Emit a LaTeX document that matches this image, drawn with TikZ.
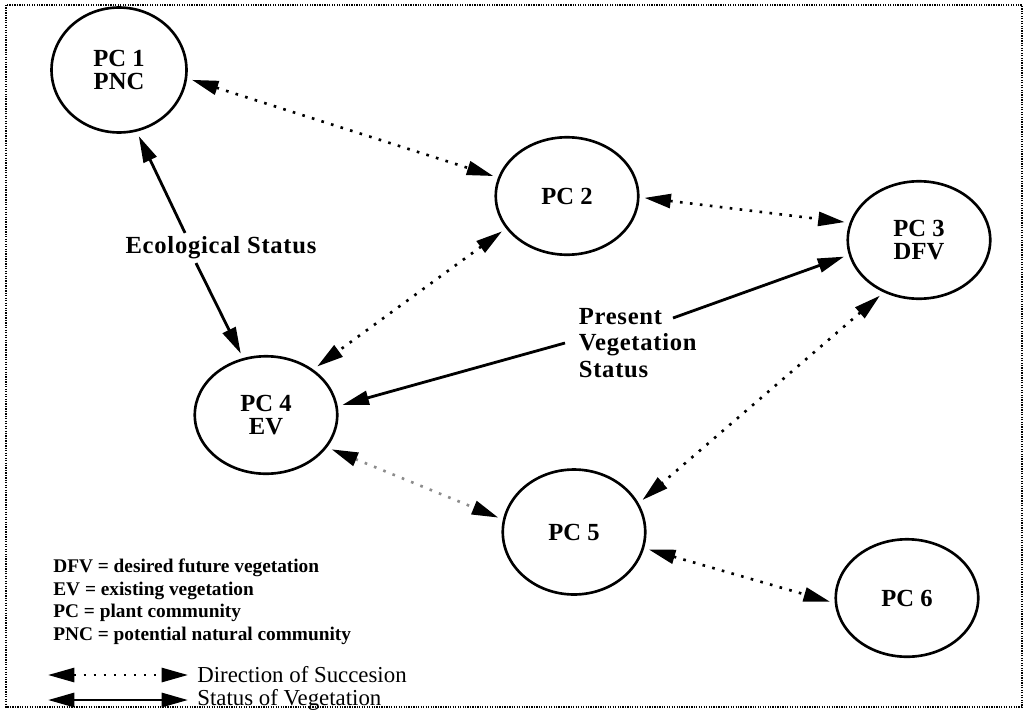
\documentclass[tikz,border=0pt]{standalone}
\usepackage{fontspec}
\setmainfont{Liberation Serif}
\usetikzlibrary{shapes,arrows.meta,positioning,calc}

\begin{document}
\begin{tikzpicture}[
    x=0.02cm, y=-0.02cm,
    community/.style={ellipse, draw, line width=1.5pt, minimum width=2.85cm, minimum height=2.35cm, inner sep=0pt, align=center, font=\fontsize{14}{13}\selectfont\bfseries},
    tag/.style={inner sep=2pt, font=\fontsize{14}{15}\selectfont\bfseries\addfontfeatures{LetterSpace=3}},
    legtext/.style={anchor=west, inner sep=0pt, font=\fontsize{11}{12.8}\selectfont\bfseries},
    legkey/.style={anchor=west, inner sep=0pt, font=\fontsize{13}{15}\selectfont},
    succ/.style={{Triangle[length=15pt,width=8pt,color=black]}-{Triangle[length=15pt,width=8pt,color=black]}, line width=1.5pt, dash pattern=on 1.5pt off 4.2pt, shorten <=0.1cm, shorten >=0.1cm},
    status/.style={-{Triangle[length=15pt,width=8pt]}, line width=1.6pt, shorten >=0.1cm}
]
\useasboundingbox (0,0) rectangle (1026,710);

% Plant communities
\node[community, minimum width=2.7cm, minimum height=2.5cm] (pc1) at (119,70) {PC 1\\PNC};
\node[community] (pc2) at (567,196) {PC 2};
\node[community] (pc3) at (919,240) {PC 3\\DFV};
\node[community] (pc4) at (266,415) {PC 4\\EV};
\node[community, minimum height=2.5cm] (pc5) at (574,532) {PC 5};
\node[community] (pc6) at (907,598) {PC 6};

% Status labels
\node[tag] (ecostat) at (221,248) {Ecological Status};
\node[tag, anchor=west, align=left] (presveg) at (575,343) {Present\\Vegetation\\Status};

% Direction of succession
\draw[succ] (pc1.-7) -- (pc2.165);
\draw[succ] (pc2.-1) -- (pc3.166);
\draw[succ] (pc2.208) -- (pc4.44);
\draw[succ] (pc3.-124) -- (pc5.24);
\draw[succ, draw=black!45] (pc4.-28) -- (pc5.170);
\draw[succ] (pc5.-13) -- (pc6.-176);

% Status of vegetation
\draw[status] ([xshift=-0.72cm]ecostat.north) -- (pc1.-74);
\draw[status] ([xshift=-0.5cm]ecostat.south) -- (pc4.112);
\draw[status] ($(presveg.west)+(-10,0)$) -- (pc4.7);
\draw[status] ($(presveg.west)+(98,-25)$) -- (pc3.192);

% Legend
\node[legtext, align=left] (abbrev) at (53,602) {DFV = desired future vegetation\\EV = existing vegetation\\PC = plant community\\PNC = potential natural community};
\coordinate (succa) at (48,675);
\coordinate (succb) at (188,675);
\coordinate (stata) at (48,700);
\coordinate (statb) at (188,700);
\draw[succ, shorten <=0pt, shorten >=0pt] (succa) -- (succb);
\draw[status, {Triangle[length=15pt,width=8pt]}-{Triangle[length=15pt,width=8pt]}, shorten >=0pt] (stata) -- (statb);
\node[legkey] (succtext) at (197,675) {Direction of Succesion};
\node[legkey] (stattext) at (197,700) {Status of Vegetation};

% Frame
\draw[line width=0.9pt, dash pattern=on 0.7pt off 0.7pt] (6,5) rectangle (1022,707);
\end{tikzpicture}
\end{document}
